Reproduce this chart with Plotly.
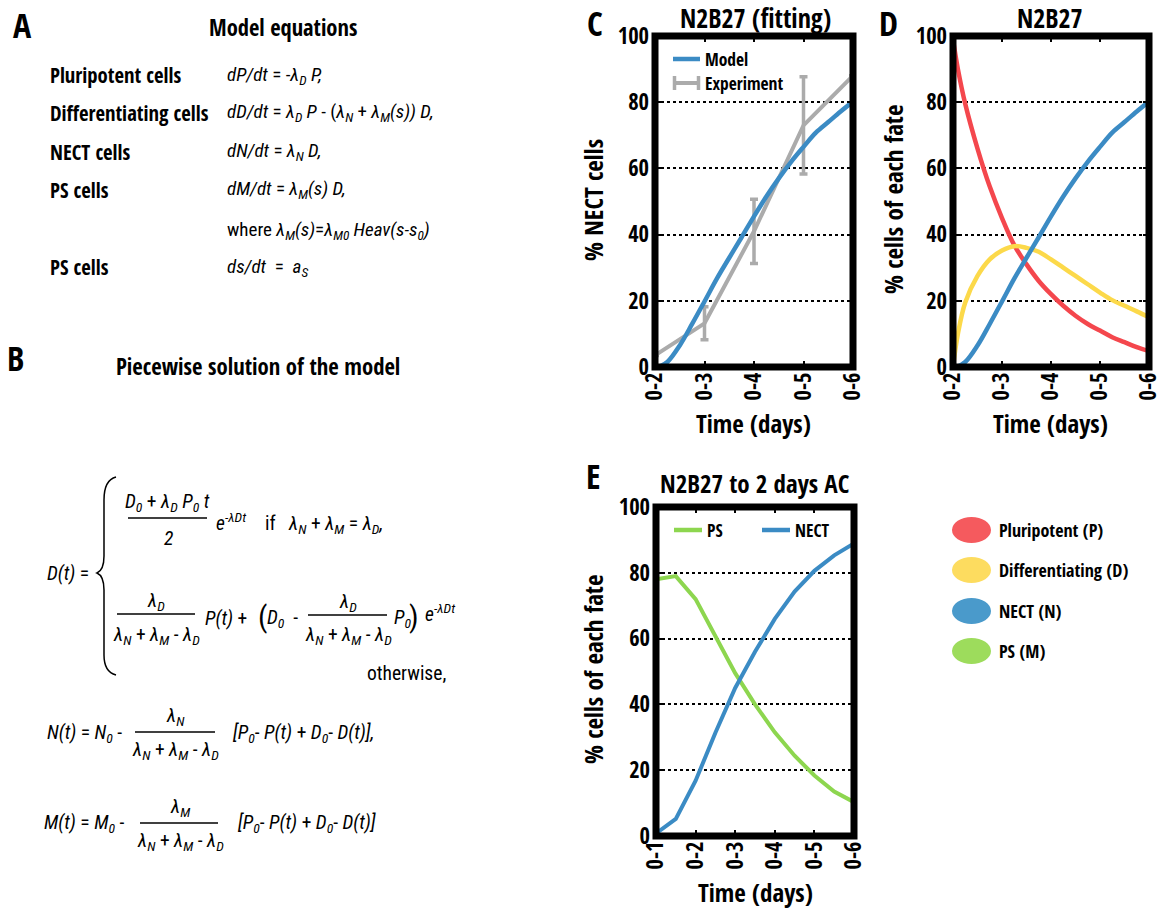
import plotly.graph_objects as go

# ---------------- data ----------------
xticks_C = [2, 3, 4, 5, 6]
xtext_C = ["0-2", "0-3", "0-4", "0-5", "0-6"]
xticks_E = [1, 2, 3, 4, 5, 6]
xtext_E = ["0-1", "0-2", "0-3", "0-4", "0-5", "0-6"]
yticks = [0, 20, 40, 60, 80, 100]

exp_days = [2, 3, 4, 5, 6]
exp_nect = [3.5, 13.2, 41, 73, 88]
exp_err = [0, 5, 9.7, 14.7, 0]

model_t = [2.0, 2.1, 2.25, 2.5, 2.75, 3.0, 3.25, 3.5, 3.75, 4.0, 4.25, 4.5, 4.75, 5.0, 5.25, 5.5, 5.75, 6.0]
model_P = [99, 90, 79.5, 66, 54.5, 45, 36.8, 31, 26, 22, 18.5, 15.5, 13, 11, 9, 7.5, 6, 4.8]
model_D = [0, 10, 19.5, 27.5, 32.5, 35.2, 36.5, 36, 34.8, 32.5, 30, 27.5, 25, 22.5, 20.2, 18.5, 16.8, 15]
model_N = [0, 0.2, 1.5, 6.5, 13, 19.8, 26.7, 33, 39.2, 45.5, 51.5, 57, 62, 66.5, 70.8, 74, 77.2, 80.2]

ac_t = [1, 1.5, 2, 2.5, 3, 3.5, 4, 4.5, 5, 5.5, 6]
ac_PS = [78, 79, 72, 61, 49.5, 40, 31.5, 24.4, 18.4, 13.5, 10.3]
ac_NECT = [0.8, 5.2, 16.8, 31.4, 45, 56, 66, 74.3, 80.6, 85.3, 88.9]

RED = "#f4474d"
YEL = "#fcd94a"
BLUE = "#3b8bc4"
GREEN = "#8dd64f"
GREY = "#ababab"

W, H = 1159, 909
BF = "Open Sans Condensed, Roboto Condensed, sans-serif"
EF = "Roboto Condensed, Open Sans Condensed, sans-serif"


def px(x):
    return x / W


def py(y):
    return 1 - y / H


fig = go.Figure()

# panel C
fig.add_trace(go.Scatter(x=exp_days, y=exp_nect, mode="lines",
                         line=dict(color=GREY, width=4),
                         error_y=dict(type="data", array=exp_err, color=GREY, thickness=3.5, width=4),
                         xaxis="x", yaxis="y", showlegend=False))
fig.add_trace(go.Scatter(x=model_t, y=model_N, mode="lines", line=dict(color=BLUE, width=4.5, shape="spline"),
                         xaxis="x", yaxis="y", showlegend=False))
# panel D
fig.add_trace(go.Scatter(x=model_t, y=model_P, mode="lines", line=dict(color=RED, width=4.5, shape="spline"),
                         xaxis="x2", yaxis="y2", showlegend=False))
fig.add_trace(go.Scatter(x=model_t, y=model_D, mode="lines", line=dict(color=YEL, width=4.5, shape="spline"),
                         xaxis="x2", yaxis="y2", showlegend=False))
fig.add_trace(go.Scatter(x=model_t, y=model_N, mode="lines", line=dict(color=BLUE, width=4.5, shape="spline"),
                         xaxis="x2", yaxis="y2", showlegend=False))
# panel E
fig.add_trace(go.Scatter(x=ac_t, y=ac_PS, mode="lines", line=dict(color=GREEN, width=4),
                         xaxis="x3", yaxis="y3", showlegend=False))
fig.add_trace(go.Scatter(x=ac_t, y=ac_NECT, mode="lines", line=dict(color=BLUE, width=4),
                         xaxis="x3", yaxis="y3", showlegend=False))

tickfont = dict(family=BF, size=22.5, color="black", weight="bold")


def xax(domain, anchor, tv, tt, rng):
    return dict(domain=domain, anchor=anchor, range=rng, tickvals=tv, ticktext=tt,
                tickangle=-90, tickfont=tickfont, showgrid=False, zeroline=False,
                showline=False, ticks="inside", ticklen=6, tickwidth=1.5, tickcolor="black",
                mirror="ticks", fixedrange=True, automargin=False, ticklabeloverflow="allow")


def yax(domain, anchor):
    return dict(domain=domain, anchor=anchor, range=[0, 100], tickvals=yticks,
                tickfont=tickfont, showgrid=True, gridcolor="black", gridwidth=2, griddash="dot",
                zeroline=False, showline=False, ticks="inside", ticklen=6, tickwidth=1.5,
                tickcolor="black", mirror="ticks", fixedrange=True, automargin=False,
                ticklabelstandoff=5, ticklabeloverflow="allow")


yC = [py(367), py(36)]
yE = [py(836), py(507)]
fig.update_layout(
    width=W, height=H, margin=dict(l=0, r=0, t=0, b=0, autoexpand=False),
    paper_bgcolor="white", plot_bgcolor="white", showlegend=False,
    xaxis=xax([px(655), px(853)], "y", xticks_C, xtext_C, [2, 6]),
    yaxis=yax(yC, "x"),
    xaxis2=xax([px(953), px(1149)], "y2", xticks_C, xtext_C, [2, 6]),
    yaxis2=yax(yC, "x2"),
    xaxis3=xax([px(656), px(854)], "y3", xticks_E, xtext_E, [1, 6]),
    yaxis3=yax(yE, "x3"),
)

shapes = []
# frames
for xr, yr in [("x", "y"), ("x2", "y2"), ("x3", "y3")]:
    shapes.append(dict(type="rect", xref=xr + " domain", yref=yr + " domain", x0=0, x1=1, y0=0, y1=1,
                       line=dict(color="black", width=7), layer="above"))


def hline(x0, x1, y, color="black", width=1.3):
    shapes.append(dict(type="line", xref="paper", yref="paper", x0=px(x0), x1=px(x1), y0=py(y), y1=py(y),
                       line=dict(color=color, width=width)))


def vline(x, y0, y1, color="black", width=1.3):
    shapes.append(dict(type="line", xref="paper", yref="paper", x0=px(x), x1=px(x), y0=py(y0), y1=py(y1),
                       line=dict(color=color, width=width)))


# legend C
hline(673, 700, 59, BLUE, 4.5)
hline(673, 700, 83, GREY, 4)
vline(674.5, 76, 90, GREY, 3.5)
vline(698.5, 76, 90, GREY, 3.5)
# legend E
hline(674, 702, 530, GREEN, 4.5)
hline(762, 790, 530, BLUE, 4.5)

# ellipse legend
for yc, col in [(530, "#f55a5e"), (570, "#fddc5f"), (611, "#4a9acb"), (651, "#9ddc5c")]:
    shapes.append(dict(type="circle", xref="paper", yref="paper", x0=px(952), x1=px(991),
                       y0=py(yc + 13), y1=py(yc - 13), fillcolor=col, line=dict(width=0)))

# fraction bars in panel B
hline(128, 207, 518)
hline(117, 195, 614)
hline(308, 387, 615)
hline(135, 215, 732)
hline(140, 218, 823)


# brace
def P(x, y):
    return f"{px(x):.5f},{py(y):.5f}"


brace = (f"M {P(116,477)} Q {P(104,480)} {P(104,500)} L {P(104,556)} Q {P(104,570)} {P(97,573)} "
         f"Q {P(104,576)} {P(104,590)} L {P(104,655)} Q {P(104,672)} {P(116,675)}")
shapes.append(dict(type="path", xref="paper", yref="paper", path=brace, line=dict(color="black", width=1.5)))

fig.update_layout(shapes=shapes)

annotations = []


def ann(text, x, y, size=21, xanchor="left", bold=False, angle=0, yanchor="middle"):
    fam = BF if bold else EF
    annotations.append(dict(text=text, x=px(x), y=py(y), xref="paper", yref="paper", showarrow=False,
                            xanchor=xanchor, yanchor=yanchor, textangle=angle,
                            font=dict(family=fam, size=size, color="black",
                                      weight="bold" if bold else "normal")))


# panel letters
ann("A", 22, 25, 34, "center", True)
ann("B", 15, 358, 34, "center", True)
ann("C", 595, 23, 34, "center", True)
ann("D", 888, 23, 34, "center", True)
ann("E", 593, 476, 34, "center", True)

# titles
ann("Model equations", 283, 27, 22.5, "center", True)
ann("Piecewise solution of the model", 258, 366, 22.7, "center", True)
ann("N2B27 (fitting)", 755, 18, 26, "center", True)
ann("N2B27", 1050, 18, 26, "center", True)
ann("N2B27 to 2 days AC", 755, 483, 25, "center", True)

# axis titles
ann("Time (days)", 753, 423, 25, "center", True)
ann("Time (days)", 1050, 423, 25, "center", True)
ann("Time (days)", 755, 892, 25, "center", True)
ann("% NECT cells", 593, 200, 25, "center", True, -90)
ann("% cells of each fate", 893, 200, 25, "center", True, -90)
ann("% cells of each fate", 593, 670, 25, "center", True, -90)

# legends text
ann("Model", 703, 59, 17.5, "left", True)
ann("Experiment", 703, 83, 17.5, "left", True)
ann("PS", 705, 530, 17.5, "left", True)
ann("NECT", 793, 530, 17.5, "left", True)
ann("Pluripotent (P)", 997, 530, 18, "left", True)
ann("Differentiating (D)", 997, 570, 18, "left", True)
ann("NECT (N)", 997, 611, 18, "left", True)
ann("PS (M)", 997, 651, 18, "left", True)

# panel A
labels_A = ["Pluripotent cells", "Differentiating cells", "NECT cells", "PS cells", "PS cells"]
ys_A = [75, 113, 152, 190, 267]
for lab, yy in zip(labels_A, ys_A):
    ann(lab, 48, yy, 20.7, "left", True)
EQ = 19
eqs_A = [
    ("<i>dP/dt</i> = -<i>λ<sub>D</sub> P,</i>", 75),
    ("<i>dD/dt</i> = <i>λ<sub>D</sub> P</i> - (<i>λ<sub>N</sub></i> + <i>λ<sub>M</sub>(s)) D,</i>", 113),
    ("<i>dN/dt</i> = <i>λ<sub>N</sub> D,</i>", 152),
    ("<i>dM/dt</i> = <i>λ<sub>M</sub>(s) D,</i>", 190),
    ("where <i>λ<sub>M</sub>(s)</i>=<i>λ<sub>M0</sub> Heav(s-s<sub>0</sub>)</i>", 230),
    ("<i>ds/dt</i>\u00a0 = \u00a0<i>a<sub>S</sub></i>", 267),
]
for t, yy in eqs_A:
    ann(t, 225, yy, EQ, "left")

# panel B equations
ES = 19.5
ann("<i>D(t)</i> =", 45, 573, ES)
ann("<i>D<sub>0</sub></i> + <i>λ<sub>D</sub> P<sub>0</sub> t</i>", 167, 503, ES, "center")
ann("<i>2</i>", 168, 538, ES, "center")
ann("<i>e<sup>-λDt</sup></i>", 214, 522, ES)
ann("if\u00a0\u00a0 <i>λ<sub>N</sub></i> + <i>λ<sub>M</sub></i> = <i>λ<sub>D</sub>,</i>", 263, 524, ES)
ann("<i>λ<sub>D</sub></i>", 156, 601, ES, "center")
ann("<i>λ<sub>N</sub></i> + <i>λ<sub>M</sub></i> - <i>λ<sub>D</sub></i>", 156, 635, ES, "center")
ann("<i>P(t)</i> +", 203, 618, ES)
ann("(", 256, 616, 30)
ann("<i>D<sub>0</sub></i>\u00a0 -", 265, 618, ES)
ann("<i>λ<sub>D</sub></i>", 348, 602, ES, "center")
ann("<i>λ<sub>N</sub></i> + <i>λ<sub>M</sub></i> - <i>λ<sub>D</sub></i>", 348, 635, ES, "center")
ann("<i>P<sub>0</sub></i>", 392, 618, ES)
ann(")", 407, 616, 30)
ann("<i>e<sup>-λDt</sup></i>", 423, 613, ES)
ann("otherwise,", 448, 673, ES, "right")

ann("<i>N(t)</i> = <i>N<sub>0</sub></i> -", 45, 733, ES)
ann("<i>λ<sub>N</sub></i>", 175, 716, ES, "center")
ann("<i>λ<sub>N</sub></i> + <i>λ<sub>M</sub></i> - <i>λ<sub>D</sub></i>", 175, 750, ES, "center")
ann("<i>[P<sub>0</sub></i>- <i>P(t)</i> + <i>D<sub>0</sub></i>- <i>D(t)],</i>", 230, 733, ES)

ann("<i>M(t)</i> = <i>M<sub>0</sub></i> -", 42, 823, ES)
ann("<i>λ<sub>M</sub></i>", 180, 807, ES, "center")
ann("<i>λ<sub>N</sub></i> + <i>λ<sub>M</sub></i> - <i>λ<sub>D</sub></i>", 180, 841, ES, "center")
ann("<i>[P<sub>0</sub></i>- <i>P(t)</i> + <i>D<sub>0</sub></i>- <i>D(t)]</i>", 235, 823, ES)

fig.update_layout(annotations=annotations)

fig.write_html("out.html")
